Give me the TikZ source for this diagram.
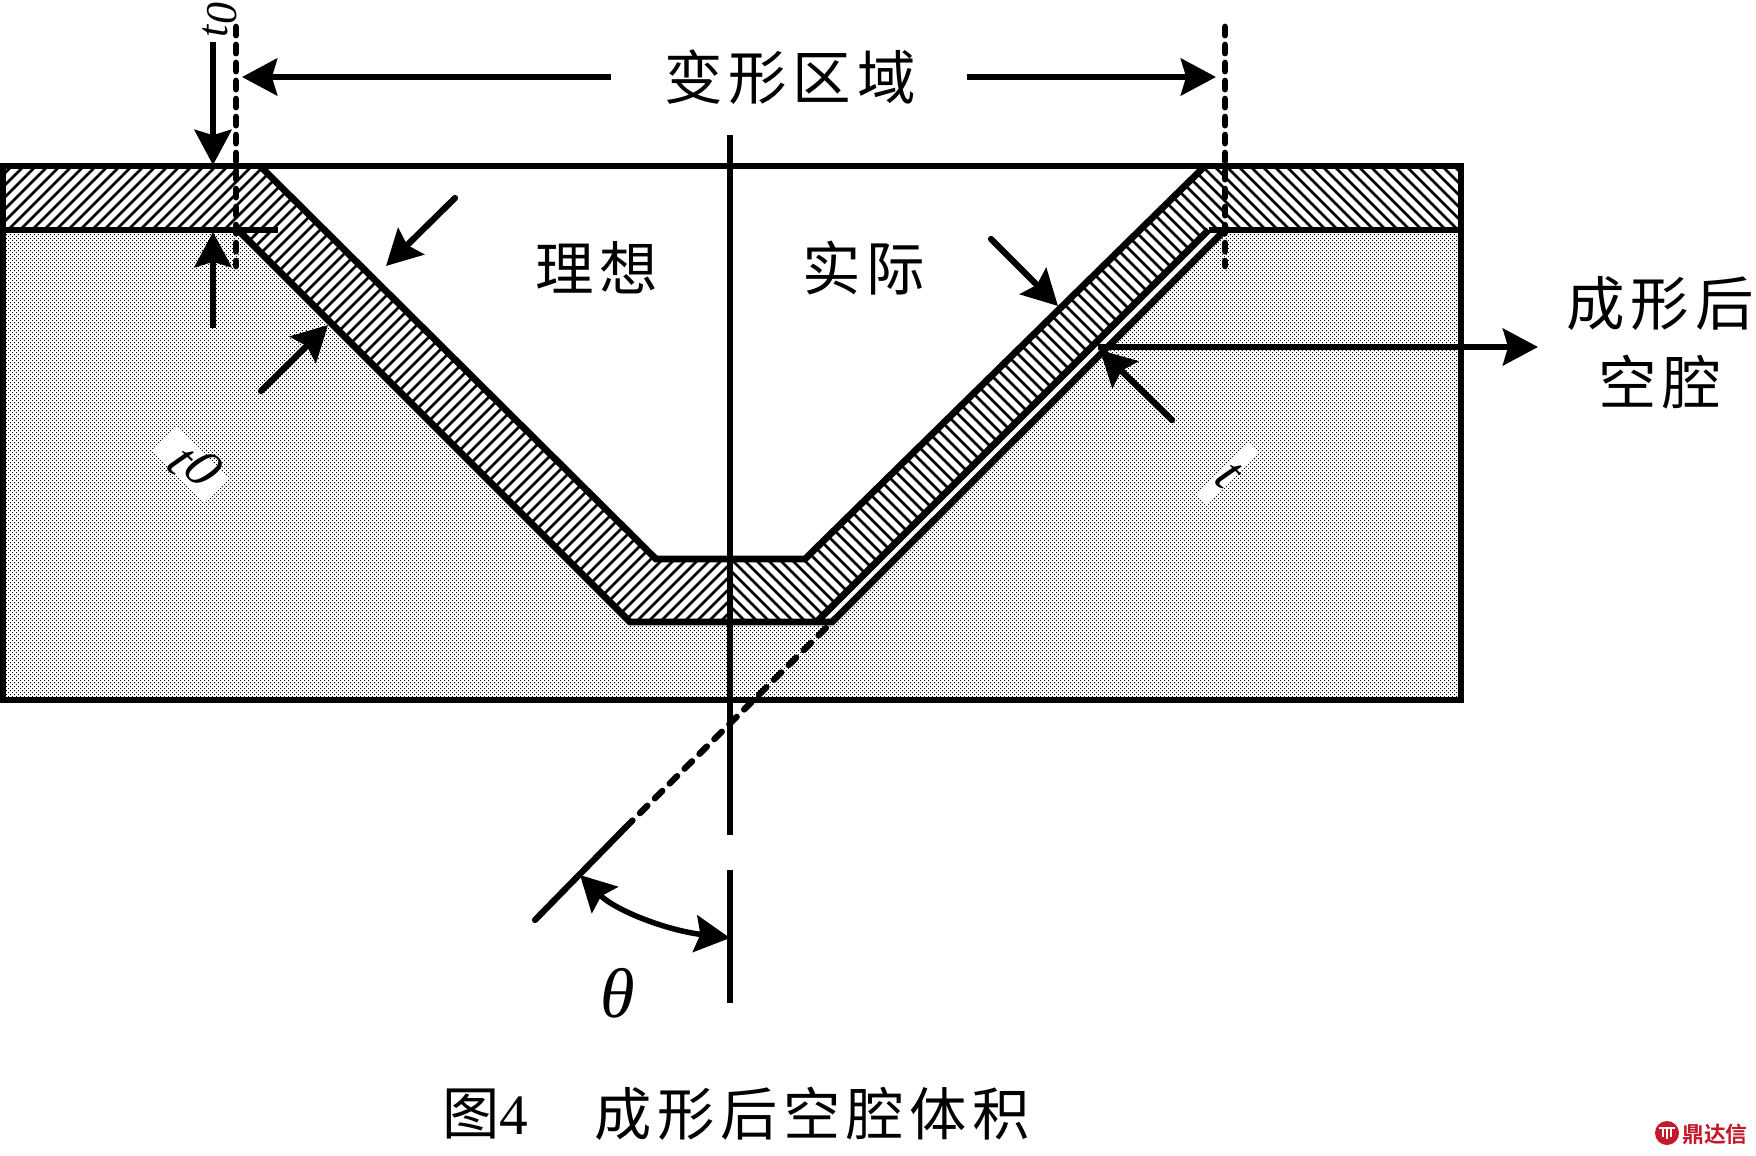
\documentclass[tikz,border=0pt]{standalone}
\usepackage{fontspec}
\usetikzlibrary{arrows.meta,patterns}
\setmainfont{Liberation Serif}
\newfontfamily\cjk[LetterSpace=10]{Noto Sans CJK SC}
\newfontfamily\cjklogo[BoldFont={Noto Sans CJK SC Bold}]{Noto Sans CJK SC}
\newfontfamily\tnr{Liberation Serif}
\definecolor{logored}{HTML}{C4182B}
\pgfdeclarepatternformonly{stipple}{\pgfpointorigin}{\pgfpoint{2.276pt}{2.276pt}}{\pgfpoint{2.276pt}{2.276pt}}{%
  \pgfpathrectangle{\pgfpoint{0pt}{0pt}}{\pgfpoint{0.5pt}{0.5pt}}%
  \pgfpathrectangle{\pgfpoint{1.138pt}{1.138pt}}{\pgfpoint{0.5pt}{0.5pt}}%
  \pgfusepath{fill}}
\tikzset{
  heavy/.style={line width=0.135cm,line cap=butt,line join=miter},
  hatchline/.style={line width=0.05cm},
  dim/.style={line width=0.125cm,line cap=round},
  dimtip/.style={-{Stealth[length=20pt,width=21pt,inset=3pt]}},
  dashv/.style={line width=0.135cm,line cap=round,dash pattern=on 4.6pt off 5.65pt},
  dashd/.style={line width=0.125cm,line cap=round,dash pattern=on 6pt off 5.95pt},
  cjktext/.style={font=\cjk\fontsize{33.3}{38}\selectfont,inner sep=0pt,align=center},
  captext/.style={font=\cjk\fontsize{32.6}{38}\selectfont,inner sep=0pt},
  symtext/.style={font=\tnr\itshape\fontsize{25}{30}\selectfont,inner sep=0pt},
  bigsym/.style={font=\tnr\itshape\fontsize{31}{36}\selectfont,inner sep=0pt},
  whitebox/.style={fill=white,inner sep=0pt,minimum width=1.44cm,minimum height=0.68cm}
}
\begin{document}
\begin{tikzpicture}[x=0.02cm,y=-0.02cm]
\useasboundingbox (0,0) rectangle (1756,1156);
% key points
\coordinate (TL) at (3,166); \coordinate (TR) at (1461,166);
\coordinate (BL) at (3,700); \coordinate (BR) at (1461,700);
\coordinate (ML) at (3,230); \coordinate (MR) at (1461,230);
\coordinate (UA) at (260,166); \coordinate (UB) at (656,559);
\coordinate (UC) at (805,559); \coordinate (UD) at (1205,166);
\coordinate (LA) at (238,230); \coordinate (LB) at (630,622);
\coordinate (LC) at (816.5,622); \coordinate (LD) at (1208.5,230);
\coordinate (CC) at (832,622); \coordinate (CD) at (1225,230);
% stipple
\fill[pattern=stipple,pattern color=black] (ML) -- (LA) -- (LB) -- (CC) -- (CD) -- (MR) -- (BR) -- (BL) -- cycle;
% hatching
\begin{scope}
 \clip (TL) -- (UA) -- (UB) -- (UC) -- (UD) -- (TR) -- (MR) -- (LD) -- (LC) -- (LB) -- (LA) -- (ML) -- cycle;
 \begin{scope}
  \clip (0,160) rectangle (730,630);
  \foreach \c in {166,178,...,1364} \draw[hatchline] ({\c-166},166) -- ({\c-622},622);
 \end{scope}
 \begin{scope}
  \clip (730,160) rectangle (1470,630);
  \foreach \c in {100,112,...,1310} \draw[hatchline] ({\c+166},166) -- ({\c+622},622);
 \end{scope}
\end{scope}
% outlines
\draw[heavy] (TL) -- (TR) -- (BR) -- (BL) -- cycle;
\draw[heavy] (ML) -- (278,230);
\draw[heavy] (LD) -- (MR);
\draw[heavy] (UA) -- (UB) -- (UC) -- (UD);
\draw[heavy] (LA) -- (LB) -- (CC) -- (CD);
\draw[heavy] (LC) -- (LD);
% centre axis and slanted line
\draw[heavy] (730,135) -- (730,835);
\draw[heavy] (730,870) -- (730,1003);
\draw[dashd] (826,628) -- (625,828);
\draw[dim] (625,828) -- (535,920);
% extent lines
\draw[dashv] (236,27) -- (236,266);
\draw[dashv] (1225,27) -- (1225,266);
% dimension arrows
\coordinate (a1) at (213,42); \coordinate (a1e) at (213,165);
\draw[dim,line cap=butt,dimtip] (a1) -- (a1e);
\coordinate (a2) at (213,328); \coordinate (a2e) at (213,232);
\draw[dim,line cap=butt,dimtip] (a2) -- (a2e);
\coordinate (d1) at (611,77); \coordinate (d1e) at (242,77);
\draw[dim,dimtip,line cap=butt] (d1) -- (d1e);
\coordinate (d2) at (967,77); \coordinate (d2e) at (1216,77);
\draw[dim,dimtip,line cap=butt] (d2) -- (d2e);
\coordinate (b1) at (455,198); \coordinate (b1e) at (386,266);
\draw[dim,dimtip] (b1) -- (b1e);
\coordinate (b2) at (261,391); \coordinate (b2e) at (328,325);
\draw[dim,dimtip] (b2) -- (b2e);
\coordinate (c1) at (991,239); \coordinate (c1e) at (1058,306);
\draw[dim,dimtip] (c1) -- (c1e);
\coordinate (c2) at (1172,420); \coordinate (c2e) at (1100,350);
\draw[dim,dimtip] (c2) -- (c2e);
\coordinate (r1) at (1098,347); \coordinate (r1e) at (1538,347);
\draw[line width=0.11cm,dimtip] (r1) -- (r1e);
\coordinate (th1) at (580,875); \coordinate (th2) at (730,938);
\draw[line width=0.11cm,{Stealth[length=20pt,width=21pt,inset=3pt]}-{Stealth[length=20pt,width=21pt,inset=3pt]}] (th1) .. controls (615,910) and (665,930) .. (th2);
% white plates and symbols
\node[whitebox,rotate=-45] (w1) at (190,465) {};
\node[whitebox,minimum height=0.28cm,rotate=45] (w2) at (1227,473) {};
\node[bigsym,rotate=-45] (t0a) at (195,466) {t\raisebox{5pt}{0}};
\node[bigsym,rotate=-45] (t1) at (1228,475) {t};
\node[symtext,rotate=90] (t0b) at (220,20) {t\raisebox{-5pt}{0}};
\node[symtext,font=\tnr\itshape\fontsize{40}{44}\selectfont] (theta) at (618,993) {θ};
% labels
\node[cjktext] (n1) at (790,77) {变形区域};
\node[cjktext] (n2) at (597,268) {理想};
\node[cjktext] (n3) at (864,268) {实际};
\node[cjktext] (n4) at (1660,343) {成形后\\[7pt]空腔};
\node[captext,anchor=west] (cap1) at (442,1114) {图\tnr 4};
\node[captext,anchor=west] (cap2) at (594,1114) {成形后空腔体积};
% logo
\fill[logored] (1667,1133) circle (12);
\draw[white,line width=0.035cm] (1659,1128) -- (1675,1128) (1663,1128) -- (1663,1137) (1671,1128) -- (1671,1137) (1667,1128) -- (1667,1139);
\node[font=\cjklogo\bfseries\fontsize{12.4}{14}\selectfont,text=logored,inner sep=0pt,anchor=west] (logo) at (1682,1134) {鼎达信};
\end{tikzpicture}
\end{document}
